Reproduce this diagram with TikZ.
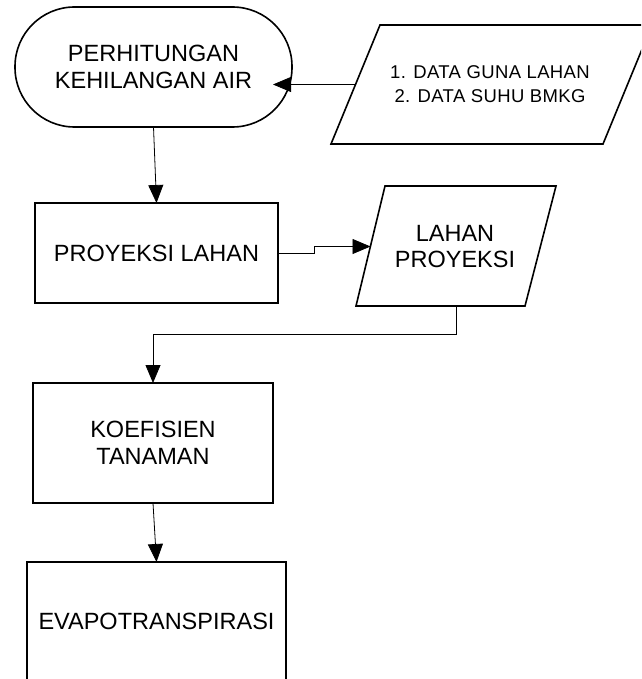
\documentclass[tikz,border=0pt]{standalone}
\usepackage{fontspec}
\setmainfont{Liberation Sans}
\usetikzlibrary{arrows.meta}
\begin{document}
\begin{tikzpicture}[x=1pt,y=-1pt,
  every node/.style={inner sep=0pt, outer sep=0pt, align=center, font=\fontsize{23.5}{26.5}\selectfont},
  shapebox/.style={draw, line width=1.6pt},
  conn/.style={line width=0.8pt},
  arr/.style={conn, -{Triangle[length=18pt,width=15pt]}},
  datafont/.style={font=\addfontfeatures{LetterSpace=2}\fontsize{18.5}{24}\selectfont}
]
\useasboundingbox (0,0) rectangle (641,679);
\clip (0,0) rectangle (641,679);
\fill[white] (0,0) rectangle (641,679);

% terminal
\node[shapebox, rounded corners=59.5pt, minimum width=277pt, minimum height=120pt] (term) at (153.5,67) {PERHITUNGAN\\KEHILANGAN AIR};

% data input parallelogram
\draw[shapebox] (380,25) -- (652,25) -- (603,144) -- (331,144) -- cycle;
\node[datafont] (data) at (490,84) {1. DATA GUNA LAHAN\\2. DATA SUHU BMKG};
\coordinate (datain) at (356,84.5);

% proyeksi lahan
\node[shapebox, minimum width=243pt, minimum height=100pt] (proj) at (156.5,253) {PROYEKSI LAHAN};

% lahan proyeksi parallelogram
\draw[shapebox] (385,186) -- (556,186) -- (525,306) -- (356,306) -- cycle;
\node (lahan) at (455,246.5) {LAHAN\\PROYEKSI};
\coordinate (lahanin) at (370.5,246.5);
\coordinate (lahanout) at (456,306);

% koefisien
\node[shapebox, minimum width=240pt, minimum height=120pt] (koef) at (153,443) {KOEFISIEN\\TANAMAN};

% evapotranspirasi
\node[shapebox, minimum width=259pt, minimum height=119pt] (evap) at (156.5,621.5) {EVAPOTRANSPIRASI};

% connectors
\draw[arr, shorten >=-19pt] (datain) -- (term.east |- datain);
\draw[arr] (term.south) -- (proj.north);
\draw[arr] (proj.east) -- (314,253) -- (314,246.5) -- (lahanin);
\draw[arr] (lahanout) -- (456,334) -| (koef.north);
\draw[arr] (koef.south) -- (evap.north);
\end{tikzpicture}
\end{document}
